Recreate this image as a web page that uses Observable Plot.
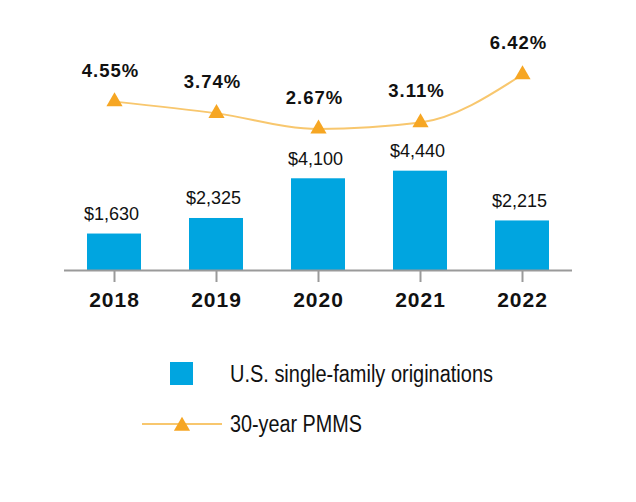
<!DOCTYPE html>
<html><head><meta charset="utf-8">
<script src="https://cdn.jsdelivr.net/npm/d3@7"></script>
<script src="https://cdn.jsdelivr.net/npm/@observablehq/plot@0.6"></script>
<style>
body{margin:0;background:#fff;}
#wrap{position:relative;width:636px;height:502px;font-family:"Liberation Sans",Arial,sans-serif;overflow:hidden;}
#wrap > svg{position:absolute;left:0;top:0;overflow:visible;}
.yearaxis text{letter-spacing:1px;}
.pct text{letter-spacing:1px;}
.legend{position:absolute;left:0;top:0;}
.legend text{font-family:"Liberation Sans",Arial,sans-serif;font-size:23px;fill:#111;}
</style></head><body><div id="wrap"></div>
<script>
const years = ["2018","2019","2020","2021","2022"];
const originations = [1630, 2325, 4100, 4440, 2215];
const originationLabels = ["$1,630","$2,325","$4,100","$4,440","$2,215"];
const pmms = [4.55, 3.74, 2.67, 3.11, 6.42];
const pmmsLabels = ["4.55%","3.74%","2.67%","3.11%","6.42%"];
const legendLabels = ["U.S. single-family originations","30-year PMMS"];

const barColor = "#00a5e0";
const lineColor = "#f8c76e";
const markerColor = "#f6a623";

const bars = years.map((y,i)=>({year:y, value:originations[i], label:originationLabels[i]}));
const rates = years.map((y,i)=>({year:y, rate:pmms[i], label:pmmsLabels[i]}));

const W = 636, H = 330;
const xScale = {type: "band", domain: years, range: [39, 597], padding: 0.47};

const p1 = Plot.plot({
  width: W, height: H,
  marginTop: 0, marginBottom: 60, marginLeft: 39, marginRight: 39,
  style: {fontFamily: '"Liberation Sans", Arial, sans-serif', background: "transparent", overflow: "visible"},
  x: {...xScale, axis: null},
  y: {domain: [0, 10000], range: [270, 46.3], axis: null},
  marks: [
    Plot.barY(bars, {x: "year", y: "value", fill: barColor}),
    Plot.ruleY([0], {stroke: "#9a9a9a", strokeWidth: 2, insetLeft: 25, insetRight: 25}),
    Plot.axisX({tickSize: 12, tickPadding: 10, stroke: "#9a9a9a", strokeWidth: 2, fontSize: 21, fontWeight: "bold", fill: "#111", className: "yearaxis", label: null}),
    Plot.text(bars, {x: "year", y: "value", text: "label", dy: -20, dx: -3, lineAnchor: "middle", fontSize: 18, fill: "#111"})
  ]
});

const p2 = Plot.plot({
  width: W, height: H,
  marginTop: 0, marginBottom: 60, marginLeft: 39, marginRight: 39,
  style: {fontFamily: '"Liberation Sans", Arial, sans-serif', background: "transparent", overflow: "visible"},
  x: {...xScale, axis: null},
  y: {domain: [0, 7], range: [167.1, 65.6], axis: null},
  marks: [
    Plot.line(rates, {x: "year", y: "rate", stroke: lineColor, strokeWidth: 2, curve: "monotone-x"}),
    Plot.dot(rates, {x: "year", y: "rate", symbol: "triangle", r: 6, fill: markerColor, stroke: "none"}),
    Plot.text(rates, {x: "year", y: "rate", text: "label", dy: -31, dx: -4, lineAnchor: "middle", fontSize: 18.5, fontWeight: "bold", fill: "#111", className: "pct"})
  ]
});

const wrap = document.getElementById("wrap");
wrap.appendChild(p1);
wrap.appendChild(p2);

// legend
const lg = d3.create("svg").attr("class","legend").attr("width", W).attr("height", 502);
lg.append("rect").attr("x",170).attr("y",362).attr("width",23).attr("height",23).attr("fill",barColor);
lg.append("text").attr("x",230).attr("y",373.5).attr("dy","0.35em")
  .attr("textLength",263).attr("lengthAdjust","spacingAndGlyphs").text(legendLabels[0]);
lg.append("line").attr("x1",142).attr("x2",222).attr("y1",424).attr("y2",424).attr("stroke",lineColor).attr("stroke-width",2);
lg.append("path").attr("transform","translate(182,426)").attr("d", d3.symbol(d3.symbolTriangle, Math.PI*36)()).attr("fill",markerColor);
lg.append("text").attr("x",230).attr("y",424).attr("dy","0.35em")
  .attr("textLength",132).attr("lengthAdjust","spacingAndGlyphs").text(legendLabels[1]);
wrap.appendChild(lg.node());
</script></body></html>
